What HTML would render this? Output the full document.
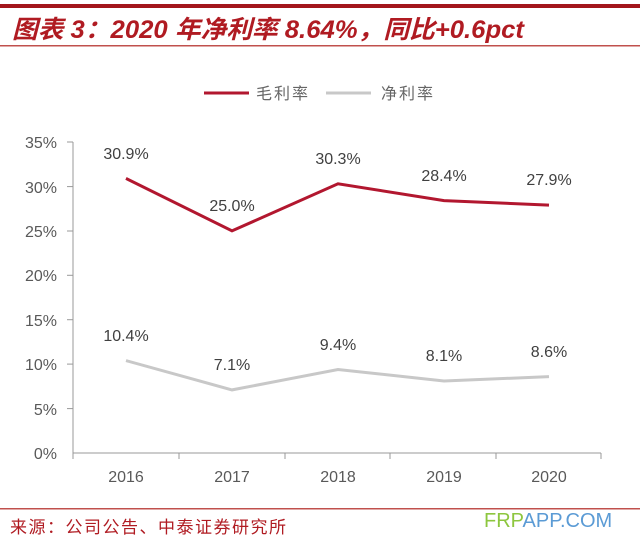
<!DOCTYPE html>
<html><head><meta charset="utf-8"><style>
body{margin:0;background:#fff;width:640px;height:542px;overflow:hidden;font-family:"Liberation Sans","Noto Sans CJK SC",sans-serif}
</style></head><body>
<svg width="640" height="542" xmlns="http://www.w3.org/2000/svg" font-family="Liberation Sans, Noto Sans CJK SC, sans-serif">
<rect x="0" y="4" width="640" height="4" fill="#a3161c"/>
<text x="12" y="38" font-size="25" font-weight="bold" font-style="italic" fill="#b01b22" textLength="512" lengthAdjust="spacingAndGlyphs">图表 3：2020 年净利率 8.64%，同比+0.6pct</text>
<rect x="0" y="45" width="640" height="1.5" fill="#c0504d"/>
<line x1="204" y1="93" x2="249" y2="93" stroke="#b2172f" stroke-width="3"/>
<text x="256" y="99" font-size="16" fill="#666" textLength="52">毛利率</text>
<line x1="326" y1="93" x2="371" y2="93" stroke="#c8c8c8" stroke-width="3"/>
<text x="381" y="99" font-size="16" fill="#666" textLength="52">净利率</text>
<g font-size="16" fill="#595959" text-anchor="end">
<text x="57" y="148">35%</text><text x="57" y="193">30%</text><text x="57" y="237">25%</text><text x="57" y="281">20%</text><text x="57" y="326">15%</text><text x="57" y="370">10%</text><text x="57" y="415">5%</text><text x="57" y="459">0%</text>
</g>
<g stroke="#999" stroke-width="1">
<line x1="73" y1="142" x2="73" y2="453"/>
<line x1="67" y1="142" x2="73" y2="142"/><line x1="67" y1="186.6" x2="73" y2="186.6"/><line x1="67" y1="231" x2="73" y2="231"/><line x1="67" y1="275.3" x2="73" y2="275.3"/><line x1="67" y1="319.7" x2="73" y2="319.7"/><line x1="67" y1="364.1" x2="73" y2="364.1"/><line x1="67" y1="408.6" x2="73" y2="408.6"/>
<line x1="73" y1="453" x2="601" y2="453"/>
<line x1="73" y1="453" x2="73" y2="459"/><line x1="179" y1="453" x2="179" y2="459"/><line x1="285" y1="453" x2="285" y2="459"/><line x1="390" y1="453" x2="390" y2="459"/><line x1="496" y1="453" x2="496" y2="459"/><line x1="601" y1="453" x2="601" y2="459"/>
</g>
<g font-size="16" fill="#595959" text-anchor="middle">
<text x="126" y="482">2016</text><text x="232" y="482">2017</text><text x="338" y="482">2018</text><text x="444" y="482">2019</text><text x="549" y="482">2020</text>
</g>
<polyline points="126,178.4 232,230.9 338,183.8 444,200.6 549,205.1" fill="none" stroke="#b2172f" stroke-width="3"/>
<polyline points="126,360.6 232,389.9 338,369.5 444,381 549,376.6" fill="none" stroke="#c8c8c8" stroke-width="3"/>
<g font-size="16" fill="#404040" text-anchor="middle">
<text x="126" y="159">30.9%</text><text x="232" y="211">25.0%</text><text x="338" y="164">30.3%</text><text x="444" y="181">28.4%</text><text x="549" y="185">27.9%</text>
<text x="126" y="341">10.4%</text><text x="232" y="370">7.1%</text><text x="338" y="350">9.4%</text><text x="444" y="361">8.1%</text><text x="549" y="357">8.6%</text>
</g>
<rect x="0" y="508" width="640" height="1.5" fill="#c0504d"/>
<text x="10" y="533" font-size="17" fill="#b01b22" textLength="276">来源：公司公告、中泰证券研究所</text>
<text x="484" y="527" font-size="20" fill="#8dc63f">FRP<tspan fill="#5b9bd5">APP.COM</tspan></text>
</svg>
</body></html>
